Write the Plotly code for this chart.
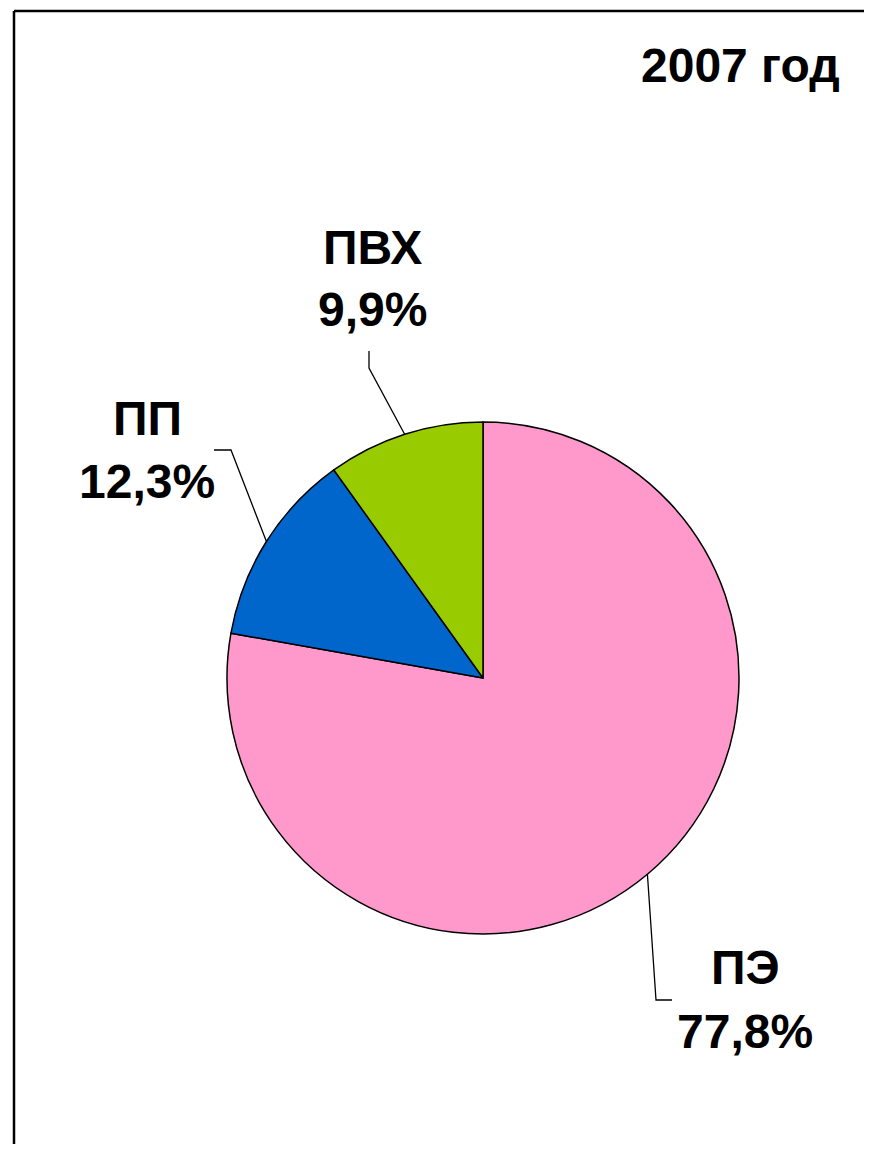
import math
import plotly.graph_objects as go

# Data
categories = ["ПЭ", "ПП", "ПВХ"]
values = [77.8, 12.3, 9.9]
value_labels = ["77,8%", "12,3%", "9,9%"]
colors = ["#FF99CC", "#0066CC", "#99CC00"]
title_text = "2007 год"

# page body has an 8px margin; figure sized to fit the window without scrollbars
OFF = 8
W, H = 872 - 2 * OFF, 1160 - 2 * OFF - 8
cx, cy, R = 483 - OFF, 678 - OFF, 256  # pie centre/radius (pixels, top-left origin)

# label placement (page pixels): x, name line centre y, value line centre y
label_pos = {
    "ПЭ": (745, 967, 1031),
    "ПП": (147, 418, 481),
    "ПВХ": (372, 248, 309),
}
# leader elbows (page pixels)
leader_elbows = {
    "ПЭ": [(656, 1000), (672, 1000)],
    "ПП": [(231, 450), (214, 450)],
    "ПВХ": [(369, 368), (369, 351)],
}

def px(x):
    return (x - OFF) / W

def py(y):
    return 1 - (y - OFF) / H

fig = go.Figure()
fig.add_trace(go.Pie(
    labels=categories,
    values=values,
    sort=False,
    direction="clockwise",
    rotation=0,
    textinfo="none",
    hoverinfo="label+percent",
    marker=dict(colors=colors, line=dict(color="#000000", width=1.5)),
    domain=dict(x=[(cx - R) / W, (cx + R) / W], y=[1 - (cy + R) / H, 1 - (cy - R) / H]),
    showlegend=False,
))

font = dict(family="Liberation Sans, Arial, sans-serif", size=48, color="#000000")
annotations = []
shapes = []
total = sum(values)
cum = 0.0
for cat, v, vl in zip(categories, values, value_labels):
    mid = (cum + v / 2) / total * 2 * math.pi
    cum += v
    sx = cx + R * math.sin(mid)
    sy = cy - R * math.cos(mid)
    pts = [(sx / W, 1 - sy / H)] + [(px(x), py(y)) for x, y in leader_elbows[cat]]
    path = "M " + " L ".join(f"{x:.5f},{y:.5f}" for x, y in pts)
    shapes.append(dict(type="path", xref="paper", yref="paper", path=path,
                       line=dict(color="#000000", width=1.3)))
    lx, ly1, ly2 = label_pos[cat]
    annotations.append(dict(x=px(lx), y=py(ly1), xref="paper", yref="paper",
                            text=f"<b>{cat}</b>", showarrow=False, font=font,
                            xanchor="center", yanchor="middle"))
    annotations.append(dict(x=px(lx), y=py(ly2), xref="paper", yref="paper",
                            text=f"<b>{vl}</b>", showarrow=False, font=font,
                            xanchor="center", yanchor="middle"))

annotations.append(dict(x=px(740), y=py(66), xref="paper", yref="paper",
                        text=f"<b>{title_text}</b>", showarrow=False, font=font,
                        xanchor="center", yanchor="middle"))

# outer frame: only left and top edges are visible in the reference
fx, fy = px(14), py(11)
shapes.append(dict(type="line", xref="paper", yref="paper",
                   x0=fx, x1=fx, y0=-0.01, y1=fy,
                   line=dict(color="#000000", width=2.5)))
shapes.append(dict(type="line", xref="paper", yref="paper",
                   x0=fx, x1=1.01, y0=fy, y1=fy,
                   line=dict(color="#000000", width=2.5)))
# white cover along the right edge of the drawing area
shapes.append(dict(type="line", xref="paper", yref="paper",
                   x0=1, x1=1, y0=-0.01, y1=fy - 0.003,
                   line=dict(color="#FFFFFF", width=8)))

fig.update_layout(
    width=W, height=H,
    margin=dict(l=0, r=0, t=0, b=0),
    paper_bgcolor="#FFFFFF",
    plot_bgcolor="#FFFFFF",
    annotations=annotations,
    shapes=shapes,
)

fig.write_html("out.html")
